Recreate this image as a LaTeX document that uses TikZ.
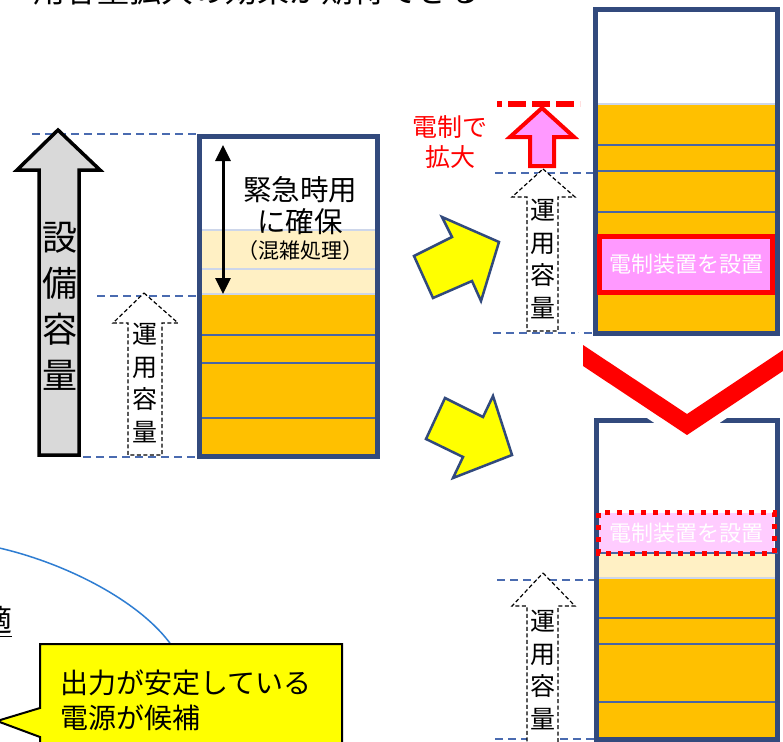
\documentclass[tikz,border=0pt]{standalone}
\usepackage{fontspec}
\setmainfont{Noto Sans CJK JP}
\usetikzlibrary{arrows.meta}
\definecolor{navy}{RGB}{50,74,125}
\definecolor{dashblue}{RGB}{74,107,176}
\definecolor{sepblue}{RGB}{72,102,165}
\definecolor{orng}{RGB}{255,192,0}
\definecolor{lyel}{RGB}{255,240,196}
\definecolor{lgray}{RGB}{217,217,217}
\definecolor{pnk}{RGB}{255,153,255}
\definecolor{lpnk}{RGB}{255,204,255}
\definecolor{yel}{RGB}{255,255,0}
\definecolor{arcblue}{RGB}{46,125,210}
\definecolor{paleline}{RGB}{205,214,234}
\tikzset{
  x=1pt, y=-1pt,
  boxborder/.style={draw=navy, line width=5pt},
  sep/.style={draw=sepblue, line width=1.5pt},
  pale/.style={draw=paleline, line width=1.5pt},
  guide/.style={draw=dashblue, line width=1.3pt, dash pattern=on 8pt off 5pt},
  opcap/.style={draw=black, line width=1.2pt, dash pattern=on 4pt off 2.5pt, fill=white},
  yarrow/.style={draw=navy, line width=2.5pt, fill=yel, line join=miter},
  vtext/.style={align=center, inner sep=0pt},
}
\begin{document}
\begin{tikzpicture}
\useasboundingbox (0,0) rectangle (783,741);
\clip (0,0) rectangle (783,741);
\fill[white] (0,0) rectangle (783,741);

% ---- partially visible heading
\node[anchor=base west, inner sep=0pt, font=\fontsize{32}{36}\selectfont] (head) at (33,3) {用容量拡大の効果が期待できる};

% ---- guide lines (left)
\draw[guide] (32,134) -- (197,134);
\draw[guide] (97,296) -- (197,296);
\draw[guide] (83,457) -- (197,457);

% ---- gray arrow 設備容量
\draw[draw=black, line width=3.5pt, fill=lgray, line join=miter]
  (58,130) -- (100,170) -- (79,170) -- (79,455) -- (39,455) -- (39,170) -- (17,170) -- cycle;
\node[vtext, font=\fontsize{35}{46}\selectfont] (setsubi) at (60,306) {設\\備\\容\\量};

% ---- dashed arrow 運用容量 (left)
\draw[opcap] (144,293) -- (178,323) -- (162,323) -- (162,455) -- (128,455) -- (128,323) -- (113,323) -- cycle;
\node[vtext, font=\fontsize{25}{32.5}\selectfont] (unyo1) at (145,383) {運\\用\\容\\量};

% ---- box 1
\fill[white] (199,136) rectangle (378,230);
\fill[lyel] (199,230) rectangle (378,294);
\draw[pale] (199,230) -- (378,230);
\draw[pale] (199,269) -- (378,269);
\fill[orng] (199,294) rectangle (378,457);
\draw[pale] (199,294) -- (378,294);
\draw[sep] (199,335) -- (378,335);
\draw[sep] (199,363) -- (378,363);
\draw[sep] (199,418) -- (378,418);
\draw[boxborder] (199.5,136.5) rectangle (377.5,456.5);
\coordinate (dtop) at (223,145);
\coordinate (dbot) at (223,294);
\draw[line width=3pt, {Triangle[length=16pt,width=15pt]}-{Triangle[length=16pt,width=15pt]}] (dtop) -- (dbot);
\node[align=center, inner sep=0pt, font=\fontsize{28.5}{32}\selectfont] (kinkyu) at (300,206) {緊急時用\\に確保};
\node[inner sep=0pt, font=\fontsize{21}{24}\selectfont] (konzatsu) at (300,251) {（混雑処理）};

% ---- yellow arrows
\draw[yarrow] (499,242) -- (442,217) -- (452,237) -- (414,256) -- (433,298) -- (472,281) -- (481,301) -- cycle;
\draw[yarrow] (512,455) -- (493,396) -- (483,417) -- (445,398) -- (426,439) -- (463,457) -- (453,478) -- cycle;

% ---- box 2 (upper right)
\fill[white] (598,12) rectangle (775,104);
\fill[orng] (598,104) rectangle (775,331);
\draw[pale] (598,104) -- (775,104);
\draw[sep] (598,145) -- (775,145);
\draw[sep] (598,171) -- (775,171);
\draw[sep] (598,212) -- (775,212);
\draw[boxborder] (595.5,9.5) rectangle (777.5,333.5);
\node[draw=red, line width=5pt, fill=pnk, minimum width=173pt, minimum height=56pt, inner sep=0pt,
      text=white, font=\fontsize{22}{24}\selectfont] (densei1) at (686,264.5) {電制装置を設置};

\draw[red, line width=5pt, dash pattern=on 18pt off 6pt, dash phase=13pt] (497,104) -- (580,104);
\draw[guide] (495,173) -- (593,173);
\draw[guide] (493,333) -- (593,333);
\draw[draw=red, line width=4pt, fill=pnk, line join=miter]
  (542,108) -- (574,137) -- (554,137) -- (554,166) -- (530,166) -- (530,137) -- (510,137) -- cycle;
\node[align=center, inner sep=0pt, text=red, font=\fontsize{25}{30}\selectfont] (kakudai) at (450,142) {電制で\\拡大};
\draw[opcap] (543,169) -- (575,197) -- (558,197) -- (558,331) -- (527,331) -- (527,197) -- (512,197) -- cycle;
\node[vtext, font=\fontsize{25}{32.5}\selectfont] (unyo2) at (543,259) {運\\用\\容\\量};

% ---- box 3 (lower right)
\fill[white] (599,423) rectangle (775,513);
\fill[lyel] (599,553) rectangle (775,578);
\fill[orng] (599,578) rectangle (775,737);
\draw[pale] (599,578) -- (775,578);
\draw[sep] (599,618) -- (775,618);
\draw[sep] (599,644) -- (775,644);
\draw[sep] (599,702) -- (775,702);
\draw[boxborder] (596.5,420.5) rectangle (777.5,739.5);
\node[fill=lpnk, minimum width=175pt, minimum height=40pt, inner sep=0pt,
      text=white, font=\fontsize{22}{24}\selectfont] (densei2) at (686.5,533) {電制装置を設置};
\draw[sep] (599,553) -- (778,553);
\draw[red, line width=5pt, dash pattern=on 5pt off 7pt] (densei2.north west) rectangle (densei2.south east);

\draw[guide] (497,580) -- (594,580);
\draw[guide] (495,739) -- (594,739);
\draw[opcap] (543,573) -- (575,606) -- (558,606) -- (558,760) -- (527,760) -- (527,606) -- (512,606) -- cycle;
\node[vtext, font=\fontsize{25}{32.5}\selectfont] (unyo3) at (543,670) {運\\用\\容\\量};

% ---- red chevron
\draw[draw=white, line width=16pt, fill=red, line join=miter]
  (583,345) -- (687,414) -- (810,332) -- (810,353) -- (687,435) -- (583,366) -- cycle;
\fill[red] (583,345) -- (687,414) -- (810,332) -- (810,353) -- (687,435) -- (583,366) -- cycle;

% ---- bottom left: arc, partial text, callout
\draw[arcblue, line width=1.5pt] (-10,546) .. controls (60,560) and (140,600) .. (172,646);
\node[anchor=east, inner sep=0pt, font=\fontsize{30}{34}\selectfont] (teki) at (13,620) {適};
\draw[black, line width=0.8pt] (-5,636) -- (12,636);
\draw[draw=black, line width=2pt, fill=yel, line join=miter]
  (40,644) -- (342,644) -- (342,760) -- (40,760) -- (40,737) -- (-3,721) -- (40,708) -- cycle;
\node[anchor=west, align=left, inner sep=0pt, font=\fontsize{28}{35}\selectfont] (callout) at (60,700) {出力が安定している\\電源が候補};
\end{tikzpicture}
\end{document}
